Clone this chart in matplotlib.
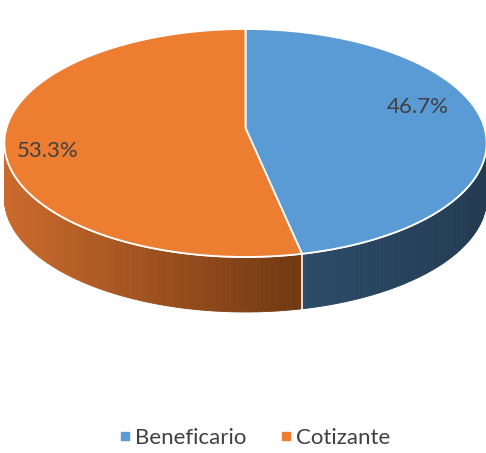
import numpy as np
import matplotlib
matplotlib.use("Agg")
import matplotlib.pyplot as plt
from matplotlib.patches import Polygon
from matplotlib.collections import PolyCollection
from matplotlib.lines import Line2D
from matplotlib.colors import to_rgb

# ── Data ───────────────────────────────────────────────────────────────────
categories = ['Beneficario', 'Cotizante']
shares = [46.7, 53.3]
top_colors = ['#5B9BD5', '#ED7D31']
side_light = ['#2C4B68', '#CB6A2C']
side_dark = ['#223B51', '#703811']

# ── Pseudo-3D geometry (pixel space) ───────────────────────────────────────
CX, CY = 245.5, 128.0      # projected pie centre
A, B = 239.0, 112.0        # radii
K = 0.1316                 # perspective strength
DEPTH = 55.0


def project(phi, r=1.0):
    """phi: clockwise angle from 12 o'clock (radians)."""
    x = r * np.sin(phi)
    y = -r * np.cos(phi)
    w = 1 - K * y
    return CX + A * x / w, CY + B * y / w, w


fig = plt.figure(figsize=(4.86, 4.53), dpi=100)
ax = fig.add_axes([0, 0, 1, 1])
ax.set_xlim(0, 486)
ax.set_ylim(453, 0)
ax.axis('off')

fracs = np.array(shares) / sum(shares)
bounds = np.concatenate([[0], np.cumsum(fracs)]) * 2 * np.pi

# visible side arc: between the two tangent points
vis_lo = np.arccos(-K)
vis_hi = 2 * np.pi - vis_lo

# side faces, shaded left -> right
for i in range(len(shares)):
    a0, a1 = max(bounds[i], vis_lo), min(bounds[i + 1], vis_hi)
    if a1 <= a0:
        continue
    phis = np.linspace(a0, a1, 120)
    X, Y, W = project(phis)
    Yb = Y + DEPTH
    quads, cols = [], []
    c_l, c_d = np.array(to_rgb(side_light[i])), np.array(to_rgb(side_dark[i]))
    xmin, xmax = X.min(), X.max()
    for j in range(len(phis) - 1):
        quads.append([(X[j], Y[j]), (X[j + 1], Y[j + 1]), (X[j + 1], Yb[j + 1]), (X[j], Yb[j])])
        t = ((X[j] + X[j + 1]) / 2 - xmin) / max(xmax - xmin, 1)
        cols.append(c_l * (1 - t) + c_d * t)
    ax.add_collection(PolyCollection(quads, facecolors=cols, edgecolors=cols, linewidths=0.6))
    ax.plot(X, Y, color='white', lw=1.2, zorder=3)

# white seam on side at slice boundary
for b in bounds[1:-1]:
    if vis_lo < b < vis_hi:
        x, y, w = project(b)
        ax.plot([x, x], [y, y + DEPTH], color='white', lw=1.2, zorder=3)

# top faces
for i in range(len(shares)):
    phis = np.linspace(bounds[i], bounds[i + 1], 200)
    X, Y, _ = project(phis)
    pts = np.column_stack([np.concatenate([[CX], X]), np.concatenate([[CY], Y])])
    ax.add_patch(Polygon(pts, closed=True, facecolor=top_colors[i], edgecolor='white',
                         lw=1.3, joinstyle='round', zorder=4))

# data labels
label_pos = [(418, 107), (48, 151)]
for (lx, ly), v in zip(label_pos, shares):
    ax.text(lx, ly, f'{v:.1f}%', ha='center', va='center', fontsize=16,
            color='#404040', family='Lato', zorder=5)

# legend
handles = [Line2D([], [], marker='s', ls='', markersize=6, color=c) for c in top_colors]
fig.legend(handles, categories, loc='center', bbox_to_anchor=(254.5 / 486, 1 - 438 / 453),
           ncol=2, frameon=False, handlelength=0.6, handletextpad=0.15, columnspacing=1.5,
           prop={'family': 'Lato', 'size': 16}, labelcolor='#404040')

fig.savefig('out.png', dpi=100)
